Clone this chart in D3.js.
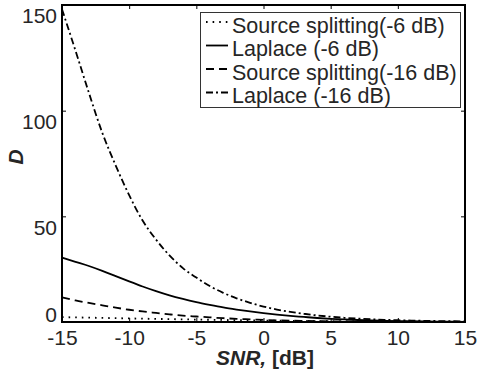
<!DOCTYPE html>
<html>
<head>
<meta charset="utf-8">
<script src="https://cdn.jsdelivr.net/npm/d3@7"></script>
<style>
  body { margin: 0; background: #fff; }
  text { font-family: "Liberation Sans", Arial, sans-serif; fill: #262626; }
  .axis text { font-size: 21px; }
  .axis path { display: none; }
  .axis line { stroke: #000; stroke-width: 1; }
</style>
</head>
<body>
<div id="chart"></div>
<script>
var width = 478,
    height = 374;

// chart data
var snr = [-15, -14, -13, -12, -11, -10, -9, -8, -7, -6, -5, -4, -3, -2, -1,
           0, 1, 2, 3, 4, 5, 6, 7, 8, 9, 10, 11, 12, 13, 14, 15];
var splitMinus6 = [2.3, 2.18, 2.06, 1.94, 1.82, 1.7, 1.58, 1.47, 1.36, 1.25, 1.15,
                   1.05, 0.96, 0.87, 0.78, 0.7, 0.62, 0.55, 0.48, 0.41, 0.35,
                   0.31, 0.27, 0.23, 0.19, 0.15, 0.13, 0.1, 0.08, 0.06, 0.05];
var laplaceMinus6 = [30.5, 28.5, 26.5, 24.2, 21.7, 19.2, 16.8, 14.6, 12.6, 10.9, 9.4,
                     8.1, 6.9, 5.9, 5.0, 4.2, 3.5, 2.9, 2.4, 1.9, 1.5,
                     1.2, 0.95, 0.75, 0.6, 0.45, 0.35, 0.27, 0.2, 0.15, 0.1];
var splitMinus16 = [11.6, 10.2, 9.0, 7.9, 6.8, 5.8, 5.0, 4.3, 3.6, 3.0, 2.6,
                    2.2, 1.8, 1.5, 1.25, 1.0, 0.8, 0.65, 0.52, 0.42, 0.33,
                    0.27, 0.21, 0.17, 0.13, 0.1, 0.08, 0.06, 0.05, 0.04, 0.03];
var laplaceMinus16 = [148, 128.5, 108.5, 89.5, 74, 60, 48, 39, 31.5, 25.5, 21,
                      17, 13.8, 11.2, 9.1, 7.3, 5.9, 4.8, 3.9, 3.1, 2.5,
                      2.0, 1.6, 1.3, 1.05, 0.85, 0.68, 0.55, 0.45, 0.36, 0.3];
var legendLabels = ["Source splitting(-6 dB)", "Laplace (-6 dB)",
                    "Source splitting(-16 dB)", "Laplace (-16 dB)"];
var xTicks = [-15, -10, -5, 0, 5, 10, 15];
var yTicks = [0, 50, 100, 150];

var series = [
  {name: legendLabels[0], values: splitMinus6, dash: "1.6,5"},
  {name: legendLabels[1], values: laplaceMinus6, dash: null},
  {name: legendLabels[2], values: splitMinus16, dash: "8,5"},
  {name: legendLabels[3], values: laplaceMinus16, dash: "7,3,2,3"}
];

var plot = {left: 62, right: 465, top: 5, bottom: 322};

var svg = d3.select("#chart").append("svg")
  .attr("width", width)
  .attr("height", height);

var xScale = d3.scaleLinear().domain([-15, 15]).range([plot.left, plot.right]);
var yScale = d3.scaleLinear().domain([0, 150]).range([plot.bottom, plot.top]);

//plain hyphen for negatives, like the original
var plainFormat = function(d) { return String(d); };

//axes, ticks pointing inward
svg.append("g")
  .attr("class", "axis")
  .attr("transform", "translate(0," + plot.bottom + ")")
  .call(d3.axisBottom(xScale).tickValues(xTicks).tickFormat(plainFormat)
    .tickSize(-4).tickSizeOuter(0).tickPadding(8));
svg.append("g")
  .attr("class", "axis")
  .attr("transform", "translate(0," + plot.top + ")")
  .call(d3.axisTop(xScale).tickValues(xTicks).tickSize(-4).tickSizeOuter(0).tickFormat(""));
var yAxis = svg.append("g")
  .attr("class", "axis")
  .attr("transform", "translate(" + plot.left + ",0)")
  .call(d3.axisLeft(yScale).tickValues(yTicks).tickFormat(plainFormat)
    .tickSize(-4).tickSizeOuter(0).tickPadding(5));
yAxis.selectAll("text")
  .attr("y", function(d) { return d === 0 ? -7 : 11; });
svg.append("g")
  .attr("class", "axis")
  .attr("transform", "translate(" + plot.right + ",0)")
  .call(d3.axisRight(yScale).tickValues(yTicks).tickSize(-4).tickSizeOuter(0).tickFormat(""));

//curves
var line = d3.line()
  .x(function(d, i) { return xScale(snr[i]); })
  .y(function(d) { return yScale(d); })
  .curve(d3.curveMonotoneX);

svg.append("g")
  .selectAll("path")
  .data(series)
  .enter().append("path")
    .attr("d", function(d) { return line(d.values); })
    .attr("fill", "none")
    .attr("stroke", "#000")
    .attr("stroke-width", 1.8)
    .attr("stroke-dasharray", function(d) { return d.dash; });

//frame
svg.append("rect")
  .attr("x", plot.left)
  .attr("y", plot.top)
  .attr("width", plot.right - plot.left)
  .attr("height", plot.bottom - plot.top)
  .attr("fill", "none")
  .attr("stroke", "#000")
  .attr("stroke-width", 2);

//legend
var legend = svg.append("g").attr("class", "legend");
legend.append("rect")
  .attr("x", 200.5)
  .attr("y", 12.5)
  .attr("width", 260)
  .attr("height", 95)
  .attr("fill", "#fff")
  .attr("stroke", "#333")
  .attr("stroke-width", 1);

var rows = legend.selectAll("g.row")
  .data(series)
  .enter().append("g")
    .attr("class", "row")
    .attr("transform", function(d, i) { return "translate(0," + (32.5 + i * 23.5) + ")"; });
rows.append("line")
  .attr("x1", 206)
  .attr("x2", 228)
  .attr("y1", -10.5)
  .attr("y2", -10.5)
  .attr("stroke", "#000")
  .attr("stroke-width", 1.8)
  .attr("stroke-dasharray", function(d) { return d.dash; });
rows.append("text")
  .attr("x", 232)
  .attr("font-size", 21.5)
  .text(function(d) { return d.name; });

//axis titles
var xTitle = svg.append("text")
  .attr("x", 265)
  .attr("y", 365)
  .attr("text-anchor", "middle")
  .attr("font-size", 21)
  .attr("font-weight", "bold");
xTitle.append("tspan").attr("font-style", "italic").text("SNR,");
xTitle.append("tspan").text(" [dB]");

svg.append("text")
  .attr("transform", "translate(23,157) rotate(-90)")
  .attr("text-anchor", "middle")
  .attr("font-size", 21)
  .attr("font-weight", "bold")
  .attr("font-style", "italic")
  .text("D");
</script>
</body>
</html>
